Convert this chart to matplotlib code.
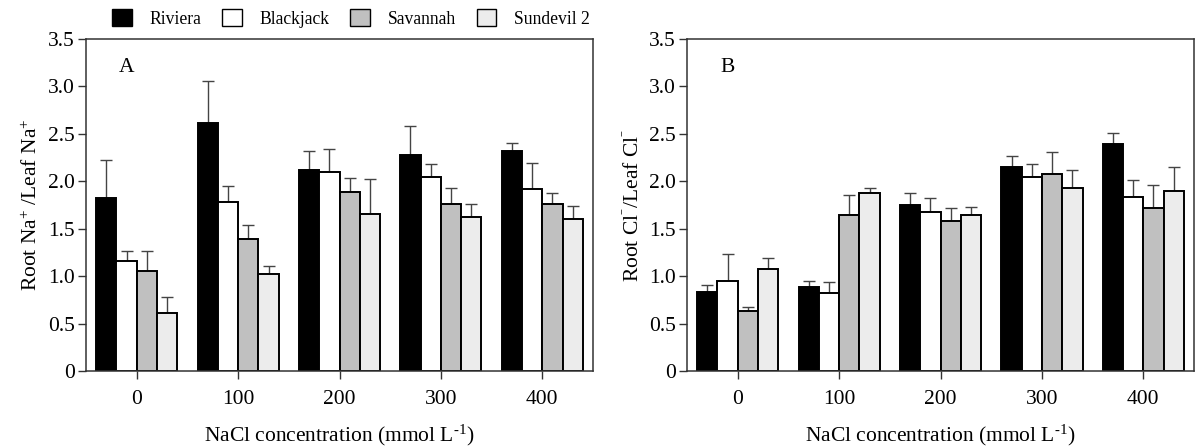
import numpy as np
import matplotlib
matplotlib.use("Agg")
import matplotlib.pyplot as plt
from matplotlib.patches import Patch
from matplotlib.ticker import FuncFormatter

plt.rcParams["font.family"] = ["Liberation Serif", "DejaVu Serif"]
plt.rcParams["mathtext.fontset"] = "custom"
plt.rcParams["mathtext.rm"] = "Liberation Serif"
plt.rcParams["mathtext.it"] = "Liberation Serif:italic"

concentrations = ["0", "100", "200", "300", "400"]
cultivars = ["Riviera", "Blackjack", "Savannah", "Sundevil 2"]
colors = ["#000000", "#ffffff", "#c0c0c0", "#ececec"]

# panel A: root Na+/leaf Na+ (mean, upper error bar top)
na_riviera = [1.82, 2.61, 2.115, 2.28, 2.32]
na_blackjack = [1.16, 1.78, 2.10, 2.04, 1.92]
na_savannah = [1.05, 1.39, 1.89, 1.76, 1.76]
na_sundevil = [0.61, 1.02, 1.65, 1.62, 1.60]
na_riviera_top = [2.22, 3.06, 2.32, 2.58, 2.40]
na_blackjack_top = [1.26, 1.95, 2.34, 2.18, 2.19]
na_savannah_top = [1.26, 1.54, 2.03, 1.93, 1.88]
na_sundevil_top = [0.78, 1.11, 2.02, 1.76, 1.74]

# panel B: root Cl-/leaf Cl-
cl_riviera = [0.83, 0.89, 1.75, 2.15, 2.39]
cl_blackjack = [0.95, 0.82, 1.68, 2.04, 1.83]
cl_savannah = [0.63, 1.64, 1.58, 2.08, 1.72]
cl_sundevil = [1.08, 1.88, 1.64, 1.93, 1.90]
cl_riviera_top = [0.91, 0.95, 1.88, 2.27, 2.51]
cl_blackjack_top = [1.23, 0.94, 1.82, 2.18, 2.01]
cl_savannah_top = [0.67, 1.85, 1.72, 2.31, 1.96]
cl_sundevil_top = [1.19, 1.93, 1.73, 2.12, 2.15]


def draw_panel(ax, means, tops, letter, ylabel):
    x = np.arange(len(concentrations))
    w = 0.2
    for i, (m, t) in enumerate(zip(means, tops)):
        pos = x + (i - 1.5) * w
        m = np.array(m)
        err = np.array(t) - m
        ax.bar(pos, m, width=w, color=colors[i], edgecolor="black",
               linewidth=1.4, zorder=2)
        ax.errorbar(pos, m, yerr=[np.zeros_like(err), err], fmt="none",
                    ecolor="#444444", elinewidth=1.0, capsize=4,
                    capthick=1.0, zorder=1)
    ax.set_xlim(-0.5, 4.5)
    ax.set_ylim(0, 3.5)
    ax.set_xticks(x)
    ax.set_xticklabels(concentrations)
    ax.set_yticks(np.arange(0, 3.51, 0.5))
    ax.yaxis.set_major_formatter(
        FuncFormatter(lambda v, p: "0" if v == 0 else f"{v:.1f}"))
    ax.tick_params(axis="both", direction="out", length=6, width=1.0,
                   colors="#333333", labelcolor="black", labelsize=15.5)
    ax.tick_params(axis="x", pad=8)
    ax.tick_params(axis="y", pad=2)
    for s in ax.spines.values():
        s.set_linewidth(1.1)
        s.set_color("#333333")
    ax.text(-0.1, 3.2, letter, ha="center", va="center", fontsize=15.5)
    ax.set_xlabel("NaCl concentration (mmol L$^{\u2010 1}$)", fontsize=15.5,
                  labelpad=9.5)
    ax.set_ylabel(ylabel, fontsize=15.5, labelpad=4)


fig = plt.figure(figsize=(11.98, 4.48), dpi=100)
ax1 = fig.add_axes([0.0718, 0.172, 0.4232, 0.741])
ax2 = fig.add_axes([0.5735, 0.172, 0.4232, 0.741])

draw_panel(ax1, [na_riviera, na_blackjack, na_savannah, na_sundevil],
           [na_riviera_top, na_blackjack_top, na_savannah_top, na_sundevil_top],
           "A", "Root Na$^{+}$ /Leaf Na$^{+}$")
draw_panel(ax2, [cl_riviera, cl_blackjack, cl_savannah, cl_sundevil],
           [cl_riviera_top, cl_blackjack_top, cl_savannah_top, cl_sundevil_top],
           "B", "Root Cl$^{^{-}}$/Leaf Cl$^{^{-}}$")

handles = [Patch(facecolor=c, edgecolor="black", linewidth=1.0) for c in colors]
fig.legend(handles, cultivars, loc="center", bbox_to_anchor=(0.293, 0.959),
           ncol=4, frameon=False, fontsize=12.7, handlelength=1.1,
           handleheight=1.1, handletextpad=1.0, columnspacing=1.2,
           borderpad=0)

fig.savefig("out.png", dpi=100)
